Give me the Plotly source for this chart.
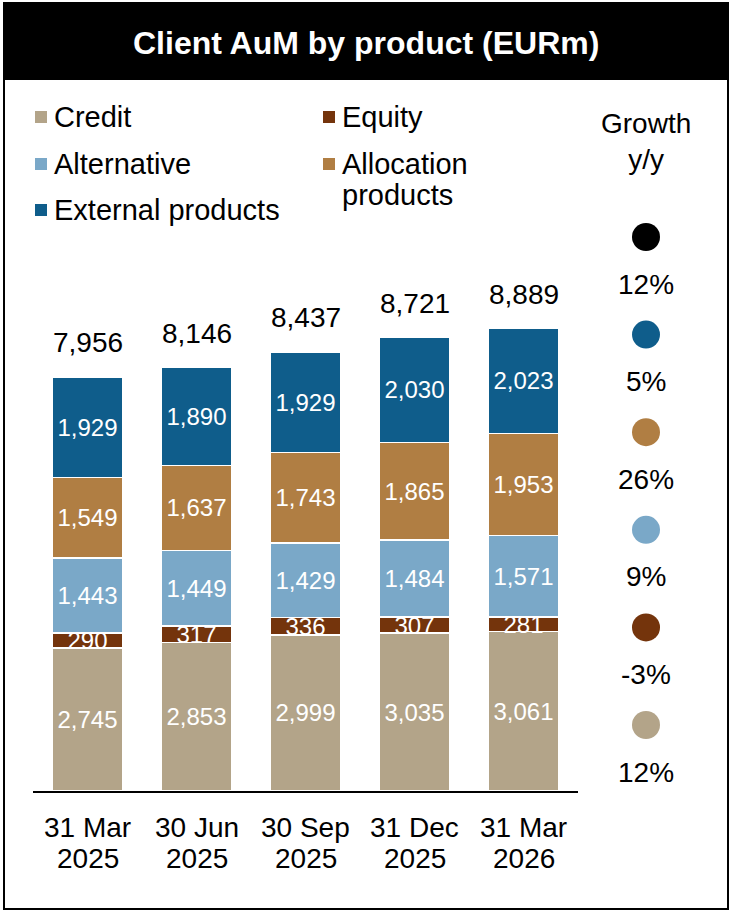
import plotly.graph_objects as go

# ---------------- data ----------------
categories = ["31 Mar 2025", "30 Jun 2025", "30 Sep 2025", "31 Dec 2025", "31 Mar 2026"]
tick_line1 = ["31 Mar", "30 Jun", "30 Sep", "31 Dec", "31 Mar"]
tick_line2 = ["2025", "2025", "2025", "2025", "2026"]

credit = [2745, 2853, 2999, 3035, 3061]
equity = [290, 317, 336, 307, 281]
alternative = [1443, 1449, 1429, 1484, 1571]
allocation = [1549, 1637, 1743, 1865, 1953]
external = [1929, 1890, 1929, 2030, 2023]
totals = [7956, 8146, 8437, 8721, 8889]

series_names = ["Credit", "Equity", "Alternative", "Allocation products", "External products"]
series_values = [credit, equity, alternative, allocation, external]
series_colors = ["#B3A489", "#74340C", "#7AA8C8", "#B07E43", "#0F5D8B"]

growth_labels = ["Total", "External products", "Allocation products", "Alternative", "Equity", "Credit"]
growth_values = [12, 5, 26, 9, -3, 12]
growth_colors = ["#000000", "#0F5D8B", "#B07E43", "#7AA8C8", "#74340C", "#B3A489"]

# ---------------- layout helpers ----------------
W, H = 730, 911
FONT = "Arial, Liberation Sans, sans-serif"


def px(x):
    return x / W


def py(y):
    return 1 - y / H


fig = go.Figure()

for name, vals, col in zip(series_names, series_values, series_colors):
    fig.add_trace(go.Bar(
        x=categories, y=vals, name=name,
        marker=dict(color=col, line=dict(color="white", width=1.5)),
        width=0.645,
        text=vals, texttemplate="%{y:,}",
        textposition="inside", insidetextanchor="middle",
        textangle=0, constraintext="none",
        textfont=dict(color="white", size=24, family=FONT),
        showlegend=False, hoverinfo="skip",
    ))

# growth circles on their own axes
fig.add_trace(go.Scatter(
    x=[0] * len(growth_labels), y=growth_labels, mode="markers",
    marker=dict(size=28, color=growth_colors, line=dict(width=0)),
    xaxis="x2", yaxis="y2", showlegend=False, hoverinfo="skip",
))

annotations = []

# totals above bars
for c, t in zip(categories, totals):
    annotations.append(dict(x=c, y=t, xref="x", yref="y", text=f"{t:,}",
                            showarrow=False, xanchor="center", yanchor="middle", yshift=34,
                            font=dict(size=28, color="black", family=FONT)))

# category labels (two lines)
for c, l1, l2 in zip(categories, tick_line1, tick_line2):
    annotations.append(dict(x=c, y=py(827), xref="x", yref="paper", text=l1,
                            showarrow=False, xanchor="center", yanchor="middle",
                            font=dict(size=28, color="black", family=FONT)))
    annotations.append(dict(x=c, y=py(858), xref="x", yref="paper", text=l2,
                            showarrow=False, xanchor="center", yanchor="middle",
                            font=dict(size=28, color="black", family=FONT)))

# growth labels
for g, v in zip(growth_labels, growth_values):
    annotations.append(dict(x=0, y=g, xref="x2", yref="y2", text=f"{v}%",
                            showarrow=False, xanchor="center", yanchor="middle", yshift=-47,
                            font=dict(size=28, color="black", family=FONT)))

annotations.append(dict(x=px(646), y=py(141.5), xref="paper", yref="paper",
                        text="Growth<br>y/y", showarrow=False,
                        xanchor="center", yanchor="middle",
                        font=dict(size=28, color="black", family=FONT)))

# title
annotations.append(dict(x=px(366), y=py(43), xref="paper", yref="paper",
                        text="<b>Client AuM by product (EURm)</b>", showarrow=False,
                        xanchor="center", yanchor="middle",
                        font=dict(size=32, color="white", family=FONT)))

# legend (manual, two columns)
legend_pos = [(41, 117), (329, 117), (41, 164), (329, 164), (41, 210)]
legend_text_lines = [["Credit"], ["Equity"], ["Alternative"], ["Allocation", "products"], ["External products"]]
shapes = []
for (lx, ly), lines, col in zip(legend_pos, legend_text_lines, series_colors):
    shapes.append(dict(type="rect", xref="paper", yref="paper",
                       x0=px(lx - 6), x1=px(lx + 6), y0=py(ly + 6), y1=py(ly - 6),
                       fillcolor=col, line=dict(width=0)))
    for i, t in enumerate(lines):
        annotations.append(dict(x=px(lx + 11), y=py(ly + i * 31), xref="paper", yref="paper",
                                text=t, showarrow=False, xanchor="left", yanchor="middle",
                                font=dict(size=29, color="black", family=FONT)))

# title bar and frame
shapes.append(dict(type="rect", xref="paper", yref="paper", layer="below",
                   x0=px(3), x1=px(728), y0=py(80), y1=py(3),
                   fillcolor="black", line=dict(width=0)))
shapes.append(dict(type="rect", xref="paper", yref="paper", layer="above",
                   x0=px(4), x1=px(728), y0=py(909), y1=py(3),
                   fillcolor="rgba(0,0,0,0)", line=dict(color="black", width=2)))

SCALE = 0.05205  # px per EURm
fig.update_layout(
    width=W, height=H,
    margin=dict(l=0, r=0, t=0, b=0),
    paper_bgcolor="white", plot_bgcolor="rgba(0,0,0,0)",
    barmode="stack", bargap=0.36,
    uniformtext=dict(minsize=24, mode="show"),
    font=dict(family=FONT, color="black"),
    xaxis=dict(domain=[px(33), px(578)], type="category", range=[-0.5, 4.5],
               showticklabels=False, ticks="", showgrid=False, zeroline=False,
               showline=True, linecolor="black", linewidth=1.5, fixedrange=True),
    yaxis=dict(domain=[py(791), 1], range=[0, 791 / SCALE], visible=False,
               showgrid=False, zeroline=False, fixedrange=True),
    xaxis2=dict(domain=[px(600), px(692)], range=[-1, 1], visible=False,
                anchor="y2", fixedrange=True),
    yaxis2=dict(domain=[py(773.8), py(188.2)], type="category",
                categoryorder="array", categoryarray=growth_labels,
                range=[5.5, -0.5], visible=False, anchor="x2", fixedrange=True),
    annotations=annotations,
    shapes=shapes,
)

fig.write_html("out.html")
